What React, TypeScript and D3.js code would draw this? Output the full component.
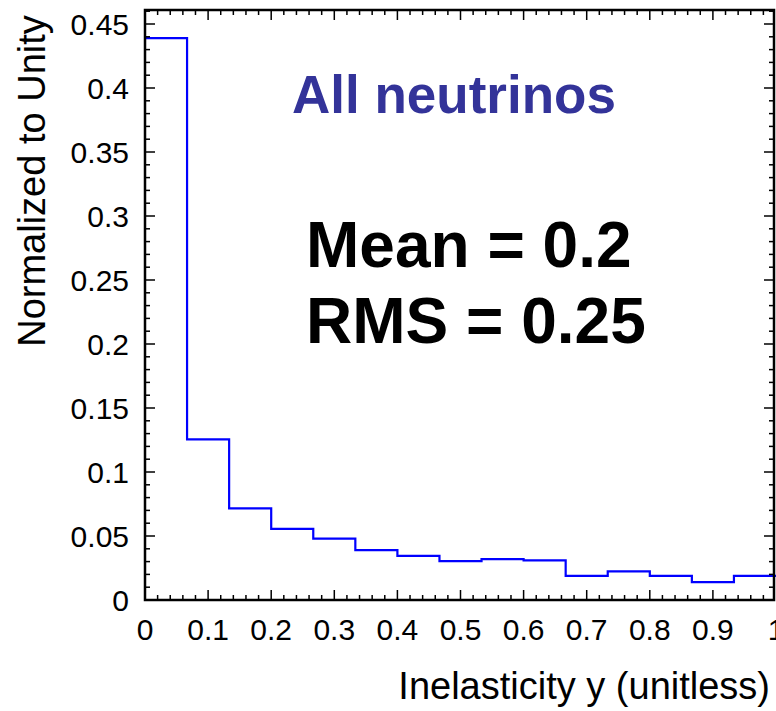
import React from "react";
import * as d3 from "d3";

const binEdges = [0, 1 / 15, 2 / 15, 3 / 15, 4 / 15, 5 / 15, 6 / 15, 7 / 15, 8 / 15, 9 / 15, 10 / 15, 11 / 15, 12 / 15, 13 / 15, 14 / 15, 1];
const binValues = [0.439, 0.1255, 0.0716, 0.0555, 0.0479, 0.039, 0.0344, 0.0303, 0.032, 0.031, 0.0188, 0.0224, 0.0188, 0.014, 0.0188];
const xTicks = [0, 0.1, 0.2, 0.3, 0.4, 0.5, 0.6, 0.7, 0.8, 0.9, 1];
const xTickLabels = ["0", "0.1", "0.2", "0.3", "0.4", "0.5", "0.6", "0.7", "0.8", "0.9", "1"];
const yTicks = [0, 0.05, 0.1, 0.15, 0.2, 0.25, 0.3, 0.35, 0.4, 0.45];
const yTickLabels = ["0", "0.05", "0.1", "0.15", "0.2", "0.25", "0.3", "0.35", "0.4", "0.45"];
const xTitle = "Inelasticity y (unitless)";
const yTitle = "Normalized to Unity";
const annotations = ["All neutrinos", "Mean = 0.2", "RMS = 0.25"];

const W = 776;
const H = 711;
const FONT = "'Liberation Sans', Arial, Helvetica, sans-serif";

export default function App() {
  const x = d3.scaleLinear().domain([0, 1]).range([145, 776]);
  const y = d3.scaleLinear().domain([0, 0.45]).range([600, 24]);
  const plotTop = 10;
  const plotRight = 774;

  const pts: [number, number][] = [];
  binValues.forEach((v, i) => {
    pts.push([binEdges[i], v]);
    pts.push([binEdges[i + 1], v]);
  });
  const line = d3
    .line<[number, number]>()
    .x((d) => x(d[0]))
    .y((d) => y(d[1]));

  const xMinor = d3.range(0, 51).map((i) => i * 0.02);
  const yMinor = d3.range(0, 47).map((i) => i * 0.01).filter((v) => y(v) > plotTop + 1);

  return (
    <div style={{ position: "fixed", left: 0, top: 0 }}>
      <svg width={W} height={H} style={{ display: "block", background: "#fff" }}>
        <rect x={0} y={0} width={W} height={H} fill="#fff" />
        {/* histogram */}
        <path d={line(pts) || ""} fill="none" stroke="#0000ff" strokeWidth={2.2} />
        {/* x ticks bottom and top */}
        {xMinor.map((v, i) => {
          const major = i % 5 === 0;
          const len = major ? 10 : 5;
          const xx = x(v);
          if (xx > plotRight) return null;
          return (
            <g key={"xt" + i} stroke="#000" strokeWidth={1.5}>
              <line x1={xx} x2={xx} y1={600} y2={600 - len} />
              <line x1={xx} x2={xx} y1={plotTop} y2={plotTop + len} />
            </g>
          );
        })}
        {/* y ticks left and right */}
        {yMinor.map((v, i) => {
          const major = Math.round(v * 100) % 5 === 0;
          const len = major ? 10 : 5;
          const yy = y(v);
          return (
            <g key={"yt" + i} stroke="#000" strokeWidth={1.5}>
              <line x1={145} x2={145 + len} y1={yy} y2={yy} />
              <line x1={plotRight} x2={plotRight - len} y1={yy} y2={yy} />
            </g>
          );
        })}
        {/* frame */}
        <rect x={145} y={plotTop} width={plotRight - 145} height={600 - plotTop} fill="none" stroke="#000" strokeWidth={2.5} />
        {/* tick labels */}
        {xTicks.map((v, i) => (
          <text key={"xl" + i} x={x(v)} y={640} textAnchor="middle" fontFamily={FONT} fontSize={30} fill="#000">
            {xTickLabels[i]}
          </text>
        ))}
        {yTicks.map((v, i) => (
          <text key={"yl" + i} x={129} y={y(v) + 11} textAnchor="end" fontFamily={FONT} fontSize={30} fill="#000">
            {yTickLabels[i]}
          </text>
        ))}
        {/* axis titles */}
        <text x={770} y={699} textAnchor="end" fontFamily={FONT} fontSize={38} fill="#000">
          {xTitle}
        </text>
        <text transform="translate(45,181) rotate(-90)" textAnchor="middle" fontFamily={FONT} fontSize={38} fill="#000">
          {yTitle}
        </text>
        {/* annotations */}
        <text x={292} y={113} fontFamily={FONT} fontSize={53} fontWeight="bold" fill="#333399">
          {annotations[0]}
        </text>
        <text x={306} y={267} fontFamily={FONT} fontSize={64} fontWeight="bold" fill="#000">
          {annotations[1]}
        </text>
        <text x={306} y={343} fontFamily={FONT} fontSize={64} fontWeight="bold" fill="#000">
          {annotations[2]}
        </text>
      </svg>
    </div>
  );
}
